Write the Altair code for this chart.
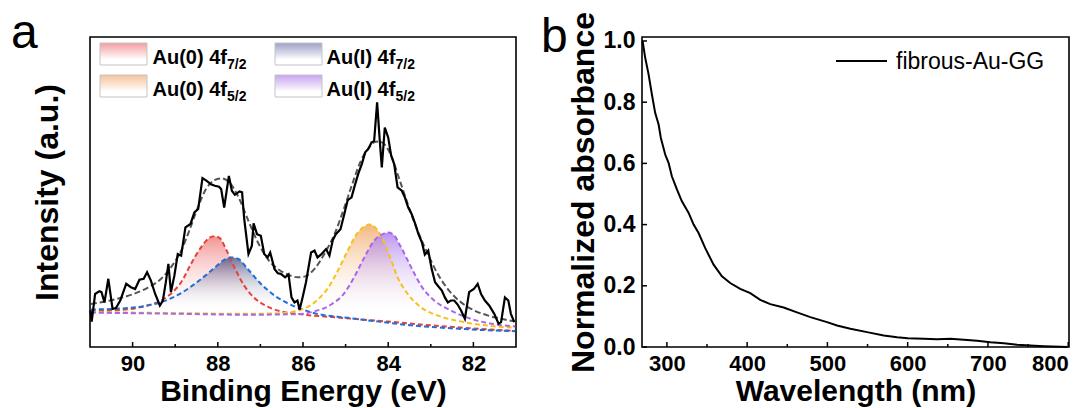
import altair as alt
import pandas as pd

# ---------------- Panel a : XPS Au 4f ----------------
raw_ev = [90.99, 90.96, 90.88, 90.78, 90.73, 90.66, 90.57, 90.47, 90.39, 90.29, 90.15, 90.04, 89.94, 89.84,
          89.74, 89.66, 89.57, 89.47, 89.36, 89.29, 89.22, 89.16, 89.10, 89.02, 88.94, 88.86, 88.76, 88.64,
          88.55, 88.46, 88.36, 88.26, 88.16, 88.07, 87.97, 87.92, 87.85, 87.74, 87.67, 87.60, 87.49, 87.43,
          87.38, 87.28, 87.20, 87.16, 87.08, 86.99, 86.91, 86.83, 86.77, 86.67, 86.59, 86.52, 86.42, 86.34,
          86.27, 86.20, 86.13, 86.08, 86.01, 85.93, 85.81, 85.73, 85.66, 85.58, 85.46, 85.38, 85.30, 85.23,
          85.12, 85.03, 84.95, 84.86, 84.78, 84.70, 84.62, 84.54, 84.47, 84.39, 84.33, 84.26, 84.20, 84.15,
          84.08, 84.00, 83.93, 83.86, 83.78, 83.68, 83.61, 83.53, 83.45, 83.37, 83.29, 83.21, 83.14, 83.06,
          82.98, 82.90, 82.82, 82.74, 82.67, 82.60, 82.53, 82.45, 82.37, 82.29, 82.20, 82.10, 81.99, 81.90,
          81.82, 81.73, 81.63, 81.51, 81.41, 81.35, 81.26, 81.18, 81.12, 81.04]
raw_int = [11.8, 8.2, 17.1, 18.0, 17.7, 14.4, 22.0, 12.3, 12.6, 15.0, 20.4, 19.3, 18.7, 21.7,
           22.0, 24.1, 21.4, 17.1, 13.4, 15.0, 20.9, 26.8, 17.7, 23.0, 30.0, 29.5, 38.6, 39.7,
           43.4, 44.5, 54.5, 53.6, 52.5, 52.0, 51.7, 50.9, 45.0, 55.2, 50.4, 49.1, 50.2, 49.9,
           41.3, 30.0, 32.7, 39.9, 36.4, 35.9, 30.0, 28.9, 30.5, 25.2, 23.8, 23.6, 22.5, 23.4,
           16.0, 14.4, 15.0, 12.0, 16.0, 20.9, 30.5, 31.1, 28.9, 29.8, 31.6, 29.5, 34.5, 36.4,
           38.0, 42.9, 47.4, 48.3, 52.3, 56.0, 59.0, 62.8, 63.8, 66.0, 66.5, 78.9, 67.0, 57.9,
           70.8, 67.6, 61.7, 59.0, 51.5, 50.4, 48.3, 45.0, 42.9, 39.9, 36.4, 33.8, 29.8, 31.1,
           25.2, 20.9, 19.5, 18.2, 16.0, 14.4, 15.0, 15.0, 13.7, 11.8, 9.1, 17.7, 18.7, 20.4,
           17.1, 15.0, 13.4, 10.7, 7.5, 8.0, 16.0, 15.0, 10.7, 8.0]

env_ev = [90.98, 90.43, 90.04, 89.65, 89.33, 89.10, 88.86, 88.67, 88.47, 88.28, 88.08, 87.92, 87.73, 87.53,
          87.30, 87.06, 86.83, 86.59, 86.36, 86.13, 85.97, 85.73, 85.50, 85.26, 85.03, 84.83, 84.64, 84.48,
          84.33, 84.21, 84.09, 83.93, 83.74, 83.54, 83.31, 83.07, 82.84, 82.60, 82.29, 81.98, 81.67, 81.35, 81.04]
env_int = [13.9, 15.3, 16.8, 19.1, 22.0, 25.7, 31.1, 37.5, 45.0, 50.9, 53.8, 54.4, 53.1, 48.8,
           41.3, 33.8, 28.4, 25.2, 23.4, 22.5, 22.7, 25.2, 30.0, 36.4, 45.0, 53.1, 60.1, 63.8,
           66.0, 66.3, 65.4, 61.7, 54.2, 46.1, 37.5, 30.0, 23.6, 18.7, 14.4, 11.8, 10.2, 9.1, 8.3]

red_ev = [90.98, 90.04, 89.65, 89.33, 89.06, 88.86, 88.63, 88.39, 88.20, 88.08, 87.96, 87.81, 87.61, 87.38,
          87.14, 86.83, 86.52, 86.13, 85.00, 84.00, 83.00, 82.00, 81.02]
red_int = [11.5, 12.3, 13.4, 15.0, 17.7, 20.9, 26.8, 32.2, 35.2, 35.7, 35.2, 31.6, 25.7, 19.8,
           15.8, 13.0, 11.5, 10.7, 9.3, 8.2, 7.0, 6.0, 5.2]

blue_ev = [90.98, 90.43, 89.65, 89.26, 88.86, 88.47, 88.08, 87.85, 87.69, 87.53, 87.30, 86.99, 86.67, 86.36,
           86.05, 85.73, 84.95, 84.17, 83.39, 82.60, 81.82, 81.02]
blue_int = [12.1, 12.3, 13.4, 14.8, 17.4, 21.1, 25.5, 28.1, 28.9, 28.5, 25.2, 20.4, 16.6, 14.1,
            12.3, 10.9, 9.4, 8.1, 6.9, 6.1, 5.5, 5.1]

orange_ev = [90.98, 88.86, 87.30, 86.52, 86.05, 85.73, 85.42, 85.19, 84.95, 84.72, 84.56, 84.44, 84.33, 84.17,
             83.97, 83.78, 83.54, 83.23, 82.76, 82.21, 81.67, 81.02]
orange_int = [11.3, 10.9, 10.7, 10.9, 12.0, 14.4, 18.9, 24.4, 31.1, 36.8, 38.9, 39.5, 38.9, 35.9,
              29.5, 22.5, 17.1, 12.8, 9.8, 8.0, 6.9, 6.2]

purple_ev = [90.98, 88.86, 87.30, 86.13, 85.73, 85.34, 85.03, 84.80, 84.56, 84.33, 84.13, 84.01, 83.89, 83.70,
             83.46, 83.23, 82.92, 82.60, 82.21, 81.82, 81.43, 81.02]
purple_int = [11.1, 10.7, 10.4, 10.6, 11.5, 13.7, 17.4, 22.5, 28.9, 34.3, 36.4, 36.9, 36.4, 32.2,
              25.7, 19.8, 15.0, 12.3, 9.8, 8.2, 7.2, 6.6]

a_major = [90, 88, 86, 84, 82]
a_minor = [89, 87, 85, 83]

legend_main = ["Au(0) 4f", "Au(I) 4f", "Au(0) 4f", "Au(I) 4f"]
legend_sub = ["7/2", "7/2", "5/2", "5/2"]

# ---------------- Panel b : UV-vis ----------------
wl = [269.7, 273.0, 277.2, 281.3, 285.4, 289.7, 292.5, 297.9, 302.1, 306.2, 312.5, 318.7, 327.1, 333.3,
      339.5, 347.8, 358.2, 368.6, 378.9, 391.4, 403.9, 416.3, 428.8, 445.5, 462.1, 478.7, 499.5, 512.0,
      528.6, 549.4, 570.2, 586.8, 600.0, 620.0, 636.7, 653.3, 670.0, 686.5, 703.1, 719.8, 736.4, 753.0,
      769.7, 790.5, 799.0]
absb = [1.000, 0.945, 0.891, 0.826, 0.765, 0.727, 0.683, 0.629, 0.602, 0.558, 0.515, 0.476, 0.438, 0.400,
        0.3725, 0.323, 0.269, 0.231, 0.209, 0.190, 0.176, 0.154, 0.140, 0.129, 0.113, 0.0977, 0.0813, 0.0704,
        0.0594, 0.0486, 0.0376, 0.0322, 0.0289, 0.0267, 0.0256, 0.0267, 0.0234, 0.0202, 0.0158, 0.0125, 0.0071, 0.005,
        0.0027, 0.0007, 0.0]
b_major = [300, 400, 500, 600, 700, 800]
b_minor = [350, 450, 550, 650, 750]
b_ymajor = [0.0, 0.2, 0.4, 0.6, 0.8, 1.0]
series_name = "fibrous-Au-GG"

FONT = "Liberation Sans"
W_A, W_B, H = 426, 427, 310

# ---------------- build panel a ----------------
xa_scale = alt.Scale(domain=[81, 91], reverse=True, nice=False, zero=False)
ya_scale = alt.Scale(domain=[0, 100], nice=False, zero=True)
xa_axis = alt.Axis(values=a_major, title="Binding Energy (eV)", format="d", labelFontSize=22,
                   titleFontSize=30, titlePadding=2)
ya_axis = alt.Axis(title="Intensity (a.u.)", labels=False, titlePadding=26, titleFontSize=32)
xa = alt.X("ev:Q", scale=xa_scale, axis=xa_axis)
ya = alt.Y("I:Q", scale=ya_scale, axis=ya_axis)


def df(ev, it):
    return pd.DataFrame({"ev": ev, "I": it})


def grad(c, stop):
    return {"gradient": "linear", "x1": 0, "y1": 0, "x2": 0, "y2": 1,
            "stops": [{"offset": 0, "color": c}, {"offset": stop, "color": "rgba(255,255,255,0)"},
                      {"offset": 1, "color": "rgba(255,255,255,0)"}]}


peaks = [
    (red_ev, red_int, "#e8403a", "rgba(238,100,100,0.70)", 0.69),
    (blue_ev, blue_int, "#1f6fd8", "rgba(60,60,115,0.72)", 0.60),
    (orange_ev, orange_int, "#f4c21a", "rgba(240,165,95,0.80)", 0.74),
    (purple_ev, purple_int, "#a866ea", "rgba(170,120,235,0.80)", 0.73),
]

layers = []
anchor = alt.Chart(alt.Data(values=[{}])).mark_rect(opacity=0).encode(
    x=alt.value(-81), x2=alt.value(-80), y=alt.value(-28), y2=alt.value(-27))
layers.append(anchor)
for ev, it, lc, fc, st in peaks:
    layers.append(alt.Chart(df(ev, it)).mark_area(interpolate="monotone", color=grad(fc, st)).encode(x=xa, y=ya))
for ev, it, lc, fc, st in peaks:
    layers.append(alt.Chart(df(ev, it)).mark_line(interpolate="monotone", color=lc, strokeWidth=2,
                                                  strokeDash=[5, 3]).encode(x=xa, y=ya))
layers.append(alt.Chart(df(env_ev, env_int)).mark_line(interpolate="monotone", color="#555555", strokeWidth=2,
                                                       strokeDash=[6, 3]).encode(x=xa, y=ya))
layers.append(alt.Chart(df(raw_ev, raw_int)).mark_line(color="black", strokeWidth=2.2).encode(x=xa, y=ya))
layers.append(alt.Chart(pd.DataFrame({"ev": a_major})).mark_rule(color="black", strokeWidth=1.5).encode(
    x=xa, y=alt.value(H), y2=alt.value(H - 5)))
layers.append(alt.Chart(pd.DataFrame({"ev": a_minor})).mark_rule(color="black", strokeWidth=1.5).encode(
    x=xa, y=alt.value(H), y2=alt.value(H - 3)))

# legend of panel a
box_cols = [10, 185]
box_rows = [6, 38]
txt_x = [62.5, 236.5]
main_w = [74.5, 69]
box_top = ["rgba(242,150,152,0.9)", "rgba(150,152,195,0.9)", "rgba(244,190,145,0.9)", "rgba(195,155,240,0.9)"]
for i in range(4):
    c, r = i % 2, i // 2
    g = {"gradient": "linear", "x1": 0, "y1": 0, "x2": 0, "y2": 1,
         "stops": [{"offset": 0, "color": box_top[i]}, {"offset": 0.75, "color": "white"},
                   {"offset": 1, "color": "white"}]}
    layers.append(alt.Chart(alt.Data(values=[{}])).mark_rect(fill=g, stroke="#c4c4c4", strokeWidth=1).encode(
        x=alt.value(box_cols[c]), x2=alt.value(box_cols[c] + 47),
        y=alt.value(box_rows[r]), y2=alt.value(box_rows[r] + 22)))
    layers.append(alt.Chart(alt.Data(values=[{}])).mark_text(
        text=legend_main[i], align="left", baseline="alphabetic", fontSize=20, fontWeight="bold",
        font=FONT, color="black").encode(x=alt.value(txt_x[c]), y=alt.value(box_rows[r] + 21)))
    layers.append(alt.Chart(alt.Data(values=[{}])).mark_text(
        text=legend_sub[i], align="left", baseline="alphabetic", fontSize=14, fontWeight="bold",
        font=FONT, color="black").encode(x=alt.value(txt_x[c] + main_w[c]), y=alt.value(box_rows[r] + 26)))

layers.append(alt.Chart(alt.Data(values=[{}])).mark_text(
    text="a", align="left", baseline="alphabetic", fontSize=48, font=FONT, color="black").encode(
    x=alt.value(-79), y=alt.value(11)))

panel_a = alt.layer(*layers).properties(width=W_A, height=H)

# ---------------- build panel b ----------------
xb_scale = alt.Scale(domain=[269, 801], nice=False, zero=False)
yb_scale = alt.Scale(domain=[0, 1.013], nice=False)
xb = alt.X("wl:Q", scale=xb_scale, axis=alt.Axis(values=b_major, title="Wavelength (nm)", format="d",
                                                  labelFontSize=22, titleFontSize=30, titlePadding=2))
yb = alt.Y("A:Q", scale=yb_scale, axis=alt.Axis(values=b_ymajor, title="Normalized absorbance", format=".1f",
                                                 labelPadding=7, titlePadding=3, labelFontSize=23,
                                                 titleFontSize=32))

blayers = []
blayers.append(alt.Chart(pd.DataFrame({"wl": wl, "A": absb})).mark_line(color="black", strokeWidth=2).encode(
    x=xb, y=yb))
blayers.append(alt.Chart(pd.DataFrame({"wl": b_major})).mark_rule(color="black", strokeWidth=1.5).encode(
    x=xb, y=alt.value(H), y2=alt.value(H - 5)))
blayers.append(alt.Chart(pd.DataFrame({"wl": b_minor})).mark_rule(color="black", strokeWidth=1.5).encode(
    x=xb, y=alt.value(H), y2=alt.value(H - 3)))
blayers.append(alt.Chart(pd.DataFrame({"A": b_ymajor})).mark_rule(color="black", strokeWidth=1.5).encode(
    y=yb, x=alt.value(0), x2=alt.value(5)))
blayers.append(alt.Chart(alt.Data(values=[{}])).mark_rule(color="black", strokeWidth=2).encode(
    x=alt.value(194), x2=alt.value(245), y=alt.value(24)))
blayers.append(alt.Chart(alt.Data(values=[{}])).mark_text(
    text=series_name, align="left", baseline="middle", fontSize=23, font=FONT, color="black").encode(
    x=alt.value(254), y=alt.value(25)))
blayers.append(alt.Chart(alt.Data(values=[{}])).mark_text(
    text="b", align="left", baseline="alphabetic", fontSize=48, font=FONT, color="black").encode(
    x=alt.value(-101), y=alt.value(15)))

panel_b = alt.layer(*blayers).properties(width=W_B, height=H)

chart = alt.hconcat(panel_a, panel_b, spacing=126, bounds="flush").properties(
    padding={"left": 0, "top": 0, "right": 5, "bottom": 0}
).configure(font=FONT).configure_view(stroke="black", strokeWidth=1.6).configure_axis(
    grid=False, domain=False, ticks=False, labelFontWeight="bold", labelColor="black",
    labelPadding=6, titleFontWeight="bold", titleColor="black",
    labelFont=FONT, titleFont=FONT
)

chart.save("out.html", embed_options={"renderer": "svg", "actions": False})
